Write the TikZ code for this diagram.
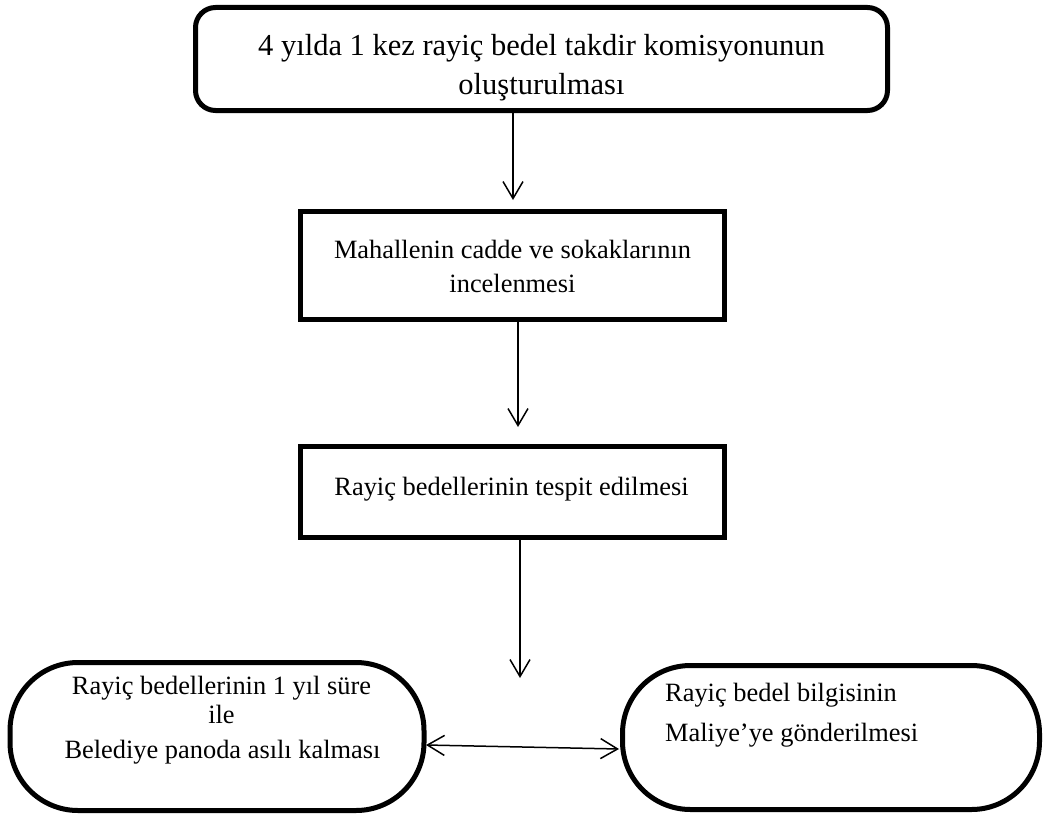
\documentclass[tikz,border=0pt]{standalone}
\usepackage{fontspec}
\setmainfont{Liberation Serif}
\usetikzlibrary{arrows.meta}
\begin{document}
\begin{tikzpicture}[x=1pt,y=-1pt,
  boxline/.style={draw=black, line width=5pt, inner sep=0pt},
  arr/.style={-{Straight Barb[length=17pt,width=20pt]}, line width=1.5pt},
  darr/.style={{Straight Barb[length=17pt,width=20pt]}-{Straight Barb[length=17pt,width=20pt]}, line width=1.5pt},
  bigtxt/.style={font=\fontsize{30.5}{36}\selectfont, inner sep=0pt, anchor=base},
  txt/.style={font=\fontsize{26.4}{30}\selectfont, inner sep=0pt, anchor=base}]
\useasboundingbox (0,0) rectangle (1044,816);
% shapes
\node[boxline, rounded corners=20pt, minimum width=692pt, minimum height=103pt] (top) at (541.5,59) {};
\node[boxline, minimum width=424pt, minimum height=108pt] (mah) at (512.5,265) {};
\node[boxline, minimum width=424pt, minimum height=91pt] (tes) at (512.5,491.5) {};
\node[boxline, rounded corners=68pt, minimum width=414pt, minimum height=148pt] (pano) at (217,736.5) {};
\node[boxline, rounded corners=68pt, minimum width=417pt, minimum height=144pt] (mal) at (831,737.5) {};
% texts
\node[bigtxt] (t1a) at (541.5,56) {4 yılda 1 kez rayiç bedel takdir komisyonunun};
\node[bigtxt] (t1b) at (541.5,95) {oluşturulması};
\node[txt] (t2a) at (512.5,258) {Mahallenin cadde ve sokaklarının};
\node[txt] (t2b) at (512.5,292) {incelenmesi};
\node[txt] (t3a) at (511.5,495) {Rayiç bedellerinin tespit edilmesi};
\node[txt] (t4a) at (221.5,694) {Rayiç bedellerinin 1 yıl süre};
\node[txt] (t4b) at (221.5,723) {ile};
\node[txt] (t4c) at (222.5,758) {Belediye panoda asılı kalması};
\node[txt, anchor=base west] (t5a) at (665,701) {Rayiç bedel bilgisinin};
\node[txt, anchor=base west] (t5b) at (665,741) {Maliye’ye gönderilmesi};
% connectors
\coordinate (a1) at (513,200);
\coordinate (a2) at (518,427);
\coordinate (a3) at (520,678);
\draw[arr] (top.south -| a1) -- (a1);
\draw[arr] (mah.south -| a2) -- (a2);
\draw[arr] (tes.south -| a3) -- (a3);
\coordinate (d1) at (426,745);
\coordinate (d2) at (619,749);
\draw[darr] (d1) -- (d2);
\end{tikzpicture}
\end{document}
